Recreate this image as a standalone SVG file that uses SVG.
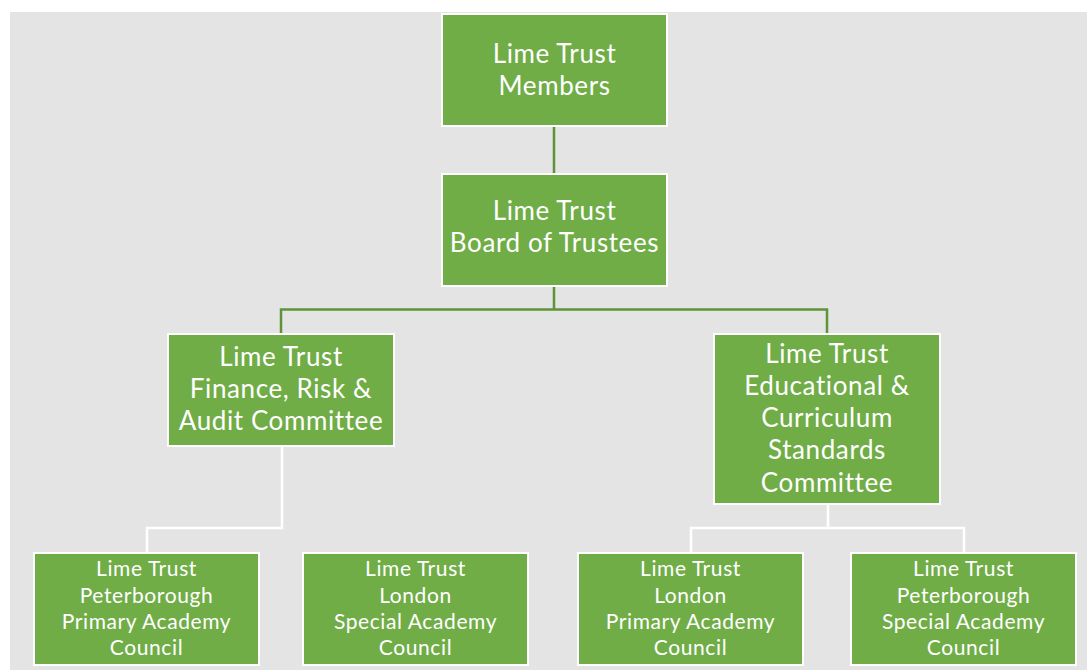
<svg xmlns="http://www.w3.org/2000/svg" width="1087" height="670" viewBox="0 0 1087 670">
  <style>
    .node rect { fill: #70AD47; stroke: #FFFFFF; stroke-width: 2; }
    .node text { fill: #FFFFFF; font-family: Lato, "Open Sans", sans-serif; text-anchor: middle; letter-spacing: 0.6px; }
    .big text { font-size: 26px; }
    .small text { font-size: 21px; }
    .link-green { fill: none; stroke: #5E9438; stroke-width: 2.5; }
    .link-white { fill: none; stroke: #FFFFFF; stroke-width: 2.5; }
  </style>
  <rect x="0" y="0" width="1087" height="670" fill="#FFFFFF"/>
  <rect x="10" y="12" width="1077" height="658" fill="#E4E4E4"/>

  <g id="connectors">
    <path class="link-green" d="M554,126 V173"/>
    <path class="link-green" d="M554,286 V309.5 M281,333 V309.5 H827 V333"/>
    <path class="link-white" d="M282,446 V528 H147 V553"/>
    <path class="link-white" d="M828,504 V528 M691,553 V528 H964 V553"/>
  </g>

  <g id="members" class="node big">
    <rect x="442" y="14" width="225" height="112"/>
    <text x="554.5" y="63">Lime Trust</text>
    <text x="554.5" y="95">Members</text>
  </g>

  <g id="board" class="node big">
    <rect x="442" y="174" width="225" height="112"/>
    <text x="554.5" y="220">Lime Trust</text>
    <text x="554.5" y="252">Board of Trustees</text>
  </g>

  <g id="finance" class="node big">
    <rect x="168" y="334" width="226" height="112"/>
    <text x="281" y="366">Lime Trust</text>
    <text x="281" y="398">Finance, Risk &amp;</text>
    <text x="281" y="430">Audit Committee</text>
  </g>

  <g id="education" class="node big">
    <rect x="714" y="334" width="226" height="170"/>
    <text x="827" y="363">Lime Trust</text>
    <text x="827" y="395">Educational &amp;</text>
    <text x="827" y="427">Curriculum</text>
    <text x="827" y="459">Standards</text>
    <text x="827" y="492">Committee</text>
  </g>

  <g id="peterborough-primary" class="node small">
    <rect x="34" y="553" width="225" height="112"/>
    <text x="146.5" y="576">Lime Trust</text>
    <text x="146.5" y="603">Peterborough</text>
    <text x="146.5" y="629">Primary Academy</text>
    <text x="146.5" y="655">Council</text>
  </g>

  <g id="london-special" class="node small">
    <rect x="303" y="553" width="225" height="112"/>
    <text x="415.5" y="576">Lime Trust</text>
    <text x="415.5" y="603">London</text>
    <text x="415.5" y="629">Special Academy</text>
    <text x="415.5" y="655">Council</text>
  </g>

  <g id="london-primary" class="node small">
    <rect x="578" y="553" width="225" height="112"/>
    <text x="690.5" y="576">Lime Trust</text>
    <text x="690.5" y="603">London</text>
    <text x="690.5" y="629">Primary Academy</text>
    <text x="690.5" y="655">Council</text>
  </g>

  <g id="peterborough-special" class="node small">
    <rect x="851" y="553" width="225" height="112"/>
    <text x="963.5" y="576">Lime Trust</text>
    <text x="963.5" y="603">Peterborough</text>
    <text x="963.5" y="629">Special Academy</text>
    <text x="963.5" y="655">Council</text>
  </g>
</svg>
